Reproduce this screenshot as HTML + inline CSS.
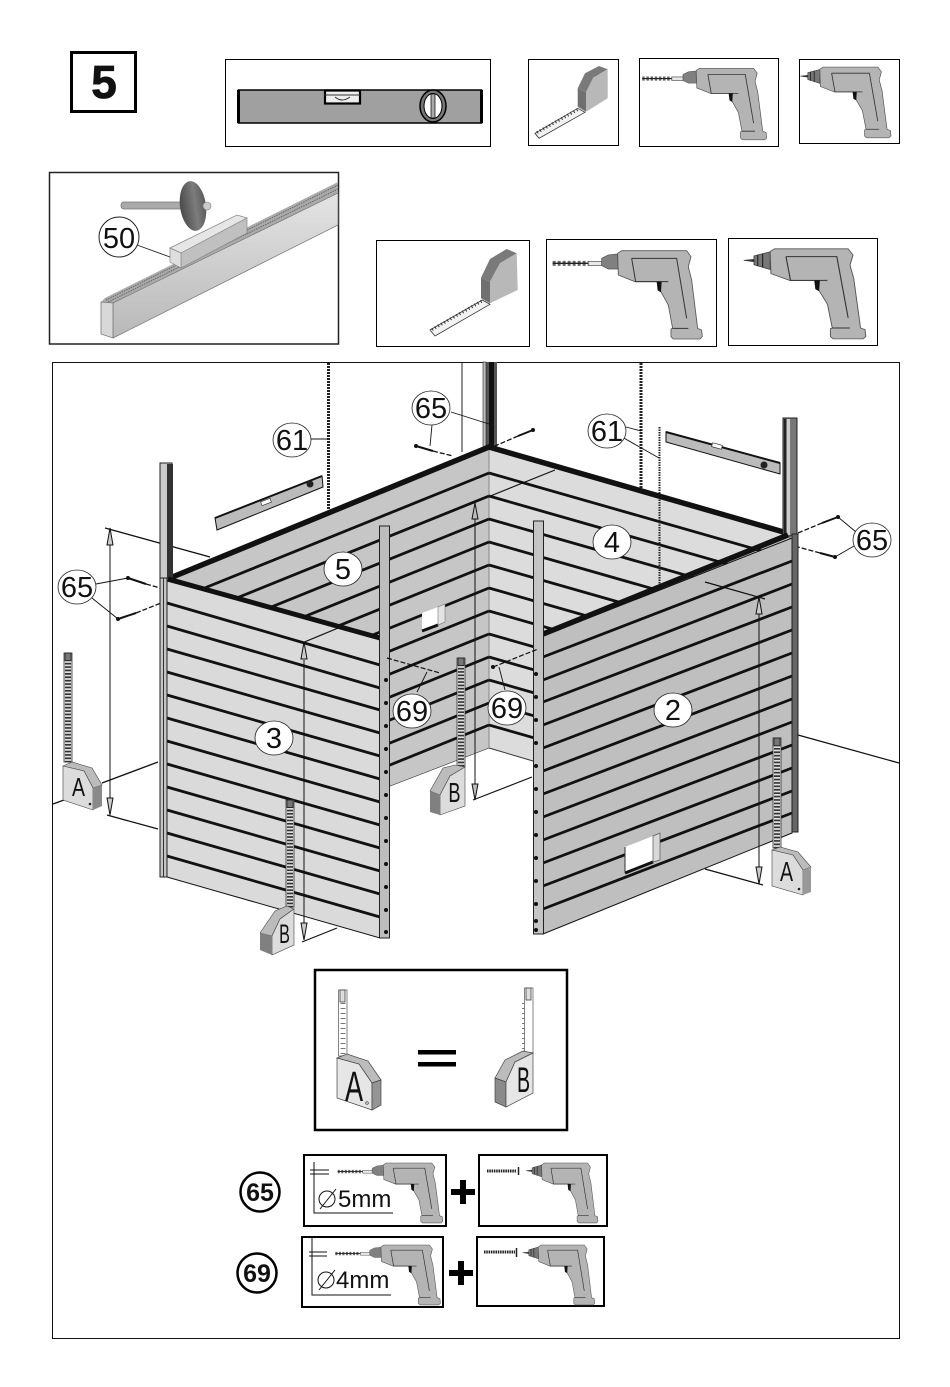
<!DOCTYPE html>
<html><head><meta charset="utf-8"><style>
html,body{margin:0;padding:0;background:#fff;width:950px;height:1387px;overflow:hidden}
svg{display:block}
text{font-family:"Liberation Sans",sans-serif;fill:#111}
</style></head><body>
<svg width="950" height="1387" viewBox="0 0 950 1387" xmlns="http://www.w3.org/2000/svg">
<defs>
<linearGradient id="mal" x1="0" x2="1" y1="0" y2="0"><stop offset="0" stop-color="#4a4a4a"/><stop offset=".6" stop-color="#7c7c7c"/><stop offset="1" stop-color="#5a5a5a"/></linearGradient>
<linearGradient id="rail" x1="0" x2="0" y1="0" y2="1"><stop offset="0" stop-color="#e4e4e4"/><stop offset="1" stop-color="#b8b8b8"/></linearGradient>
<g id="body">
<path d="M728 55 L740 47 L935 47 L948 65 L940 95 L950 135 L968 280 L980 285 L982 305 L975 312 L895 312 L888 305 L888 282 L893 280 L880 210 L855 165 L850 140 L780 140 L730 120 Z" fill="#b4b4b4" stroke="#555" stroke-width="2.500"/>
<path d="M770 70 L905 70 L935 250 M770 70 L782 140 L880 140 M893 280 L940 280" fill="none" stroke="#333" stroke-width="3"/>
<path d="M845 140 L860 140 L858 172 L848 166 Z" fill="#111"/>
</g>
<g id="dhead">
<path d="M680 70 L700 60 L727 57 L729 102 L700 102 L680 92 Z" fill="#808080" stroke="#555" stroke-width="2"/>
<path d="M640 79 L680 79 L680 92 L640 92Z" fill="#e8e8e8" stroke="#444" stroke-width="2"/>
<path d="M533 85 L640 85" stroke="#666" stroke-width="15" stroke-dasharray="9 6" fill="none"/>
<path d="M533 85 L640 85" stroke="#222" stroke-width="4" fill="none"/>
</g>
<g id="shead">
<path d="M685 68 L728 56 L728 108 L685 94 Z" fill="#777" stroke="#333" stroke-width="2"/>
<path d="M695 65V98M708 62V102" stroke="#222" stroke-width="3"/>
<path d="M658 81 L685 78 L685 85 Z" fill="#333" stroke="#333" stroke-width="2"/>
</g>
<g id="tape"><rect x="0" y="0" width="8" height="100" fill="#dedede" stroke="#333" stroke-width=".8"/><path d="M4 6V100" stroke="#333" stroke-width="6" stroke-dasharray="1.500 1.600" fill="none"/><rect x="1" y="0" width="6" height="7" fill="#777" stroke="#222" stroke-width=".8"/></g>
</defs>

<!-- step number -->
<rect x="71.500" y="52.500" width="64" height="59" fill="#fff" stroke="#000" stroke-width="3"/>
<text x="104" y="98" font-size="46" font-weight="bold" text-anchor="middle" stroke="#111" stroke-width=".8">5</text>

<!-- level box -->
<rect x="225.500" y="59.500" width="265" height="87" fill="#fff" stroke="#000"/>
<rect x="238.500" y="90" width="243" height="33" fill="#a0a0a0" stroke="#000" stroke-width="1.500"/>
<path d="M238.500 90V123M481.500 90V123" stroke="#000" stroke-width="3"/>
<rect x="325" y="90.500" width="35" height="13" fill="#eee" stroke="#000" stroke-width="2.200"/>
<path d="M324 95H360M335 97Q342 103 350 97" stroke="#333" fill="none"/>
<ellipse cx="433" cy="106" rx="13" ry="16" fill="#777" stroke="#000" stroke-width="1.500"/>
<ellipse cx="433" cy="106" rx="9" ry="12.500" fill="#fff" stroke="#000"/>
<rect x="431" y="94" width="4" height="24" fill="#aaa" stroke="#000" stroke-width=".7"/>

<!-- small tape box -->
<rect x="528.500" y="59.500" width="90" height="86" fill="#fff" stroke="#000"/>
<path d="M535 133.300 L577.700 108.300 L585 112.300 L539 138.300Z" fill="#f2f2f2" stroke="#333" stroke-width=".8"/>
<path d="M537 132.500 L578 109.500" stroke="#333" stroke-width="3" stroke-dasharray="1 2.500"/>
<path d="M577.700 88.300 L585 73.300 L599 66 L607.700 69.300 L593.300 77.700 L586 92.300Z" fill="#7a7a7a"/>
<path d="M577.700 88.300 L586 92.300 L586 111.700 L577.700 106.700Z" fill="#707070"/>
<path d="M586 92.300 L593.300 77.700 L607.700 69.300 L607.700 98.300 L586 111.700Z" fill="#b8b8b8"/>

<!-- small drill box -->
<rect x="639.500" y="58.500" width="139" height="88" fill="#fff" stroke="#000"/>
<g transform="translate(494.600,55.600) scale(.277,.27)"><use href="#dhead"/><use href="#body"/></g>

<!-- small driver box -->
<rect x="799.500" y="59.500" width="100" height="84" fill="#fff" stroke="#000"/>
<g transform="translate(616,54.500) scale(.28,.267)"><use href="#shead"/><use href="#body"/></g>

<!-- box 50 -->
<rect x="49.500" y="172.500" width="289" height="171.500" fill="#fff" stroke="#222" stroke-width="1.500"/>
<path d="M105 298 L338 182 L338 193 L113 303 L101 302Z" fill="#aaa"/>
<path d="M106 300 L338 185M108 302 L338 189" stroke="#666" stroke-dasharray="1.500 1" fill="none"/>
<path d="M113 303 L338 193 L338 225 L113 338Z" fill="url(#rail)" stroke="#777" stroke-width=".7"/>
<path d="M101 302 L113 303 L113 338 L101 334Z" fill="#d8d8d8" stroke="#777" stroke-width=".8"/>
<path d="M170 248 L237 215 L247 218 L181 253Z" fill="#e6e6e6" stroke="#888" stroke-width=".7"/>
<path d="M181 253 L247 218 L247 233 L181 268Z" fill="#c0c0c0" stroke="#888" stroke-width=".7"/>
<path d="M170 248 L181 253 L181 268 L170 262Z" fill="#dedede" stroke="#888" stroke-width=".7"/>
<rect x="121" y="202" width="62" height="7" rx="3" fill="#aaa" stroke="#777" stroke-width=".8"/>
<ellipse cx="193" cy="206" rx="13" ry="25" fill="url(#mal)" transform="rotate(-8 193 206)"/>
<circle cx="207" cy="206" r="4" fill="#ccc" stroke="#777" stroke-width=".6"/>
<path d="M137 245 L170 257" stroke="#222" stroke-width=".9"/>
<circle cx="119" cy="237" r="20" fill="#fff" stroke="#222"/>
<text x="119" y="248" font-size="29" text-anchor="middle">50</text>

<!-- large tape box -->
<rect x="376.500" y="240.500" width="153" height="106" fill="#fff" stroke="#000"/>
<path d="M430 330 L482.300 300 L490 304.300 L435 336Z" fill="#f2f2f2" stroke="#333" stroke-width=".8"/>
<path d="M432 329.500 L482 301" stroke="#333" stroke-width="3" stroke-dasharray="1 2.500"/>
<path d="M481 277.700 L490 259 L506.700 249 L516.700 253.300 L500 263.300 L490 281.700Z" fill="#7a7a7a"/>
<path d="M481 277.700 L490 281.700 L490 303.300 L481 298.300Z" fill="#707070"/>
<path d="M490 281.700 L500 263.300 L516.700 253.300 L517.700 290 L490 303.300Z" fill="#b8b8b8"/>

<!-- large drill box -->
<rect x="546.500" y="239.500" width="170" height="107" fill="#fff" stroke="#000"/>
<g transform="translate(375,235) scale(.3333)"><use href="#dhead"/><use href="#body"/></g>

<!-- large driver box -->
<rect x="728.500" y="238.500" width="149" height="107" fill="#fff" stroke="#000"/>
<g transform="translate(496,232.800) scale(.3766,.34)"><use href="#shead"/><use href="#body"/></g>

<!-- main frame -->
<rect x="52.500" y="362.500" width="847" height="976" fill="#fff" stroke="#111"/>

<!-- dotted/thin behind walls -->
<path d="M328.500 363V510" stroke="#222" stroke-width="3" stroke-dasharray="2 1"/>
<path d="M641 363V488" stroke="#222" stroke-width="3" stroke-dasharray="2 1"/>
<path d="M462 363V452" stroke="#222"/>
<path d="M53 804 L64 800M102 783 L158 762M105 528 L210 557M107 815 L158 829M798 735 L899 763" stroke="#111" stroke-width="1.300" fill="none"/>

<!-- levels -->
<path d="M215 518 L322 476 L323 487 L217 530Z" fill="#bbb" stroke="#111"/>
<path d="M215 518 L322 476" stroke="#111" stroke-width="2"/>
<circle cx="310" cy="484" r="3.500" fill="#222"/><rect x="261" y="500" width="10" height="4" fill="#fff" stroke="#222" stroke-width=".6" transform="rotate(-21 266 502)"/>
<path d="M666 432 L780 463 L780 474 L666 442Z" fill="#bbb" stroke="#111"/>
<path d="M666 432 L780 463" stroke="#111" stroke-width="2"/>
<circle cx="764" cy="465" r="3.500" fill="#222"/><rect x="712" y="444" width="10" height="4" fill="#fff" stroke="#222" stroke-width=".6" transform="rotate(15 717 446)"/>

<!-- back walls -->
<path d="M170 578 L489 447 L489 748 L380 790 L170 790Z" fill="#c6c6c6" stroke="#333" stroke-width=".6"/>
<path d="M489 447 L790 533 L790 830 L533 761 L489 748Z" fill="#dcdcdc" stroke="#333"/>
<path d="M489 447V748" stroke="#888"/>
<path d="M489 473L170 602M489 496L170 625M489 519L170 648M489 542L170 671M489 565L170 694M489 588L170 717M489 611L170 740M489 634L170 763M489 657L170 786M489 680L380 724M489 703L380 747M489 725L380 769" stroke="#111" stroke-width="2.800" fill="none"/>
<path d="M489 473L790 559M489 496L790 582M489 519L790 605M489 542L790 628M489 565L790 651M489 588L790 674M489 611L790 697M489 634L790 720M489 657L790 743M489 680L790 766M489 703L790 789M489 725L790 811" stroke="#111" stroke-width="2.800" fill="none"/>
<!-- back-wall window -->
<path d="M422 613 L438 607 L438 625 L422 631Z" fill="#fff"/><path d="M422 631 L438 625" stroke="#111" stroke-width="3"/>
<path d="M438 607 L445 604 L445 622 L438 625Z" fill="#e4e4e4" stroke="#777" stroke-width=".6"/>
<!-- extra lines -->
<path d="M473 503 L555 470M473 800 L532 777" stroke="#111" stroke-width="1.200"/>
<!-- corner post -->
<rect x="483" y="362" width="14" height="86" fill="#555"/><rect x="483" y="362" width="3" height="86" fill="#bbb" stroke="#222" stroke-width=".6"/><rect x="489" y="362" width="5" height="86" fill="#111"/>
<!-- dotted 2 -->
<path d="M659.500 427V585" stroke="#222" stroke-width="2" stroke-dasharray="1.500 1"/>
<!-- arrow back -->
<path d="M475 518V785" stroke="#111"/>
<polygon points="475,503 472,519 478,519" fill="#bbb" stroke="#111"/>
<polygon points="475,800 472,784 478,784" fill="#bbb" stroke="#111"/>
<!-- back beam -->
<path d="M170 578 L489 447 L787 533" fill="none" stroke="#111" stroke-width="5.500"/>

<!-- upper posts -->
<rect x="160" y="463" width="12" height="116" fill="#ccc" stroke="#222"/><rect x="167" y="464" width="6" height="115" fill="#333"/><rect x="783" y="418" width="14" height="118" fill="#777" stroke="#222"/><rect x="787" y="419" width="3" height="116" fill="#ccc"/><rect x="784" y="419" width="2" height="116" fill="#222"/>

<!-- front left wall -->
<path d="M167 581 L380 638 L380 938 L167 877Z" fill="#dadada" stroke="#111"/>
<path d="M167 603L380 665M167 626L380 688M167 649L380 710M167 672L380 733M167 695L380 756M167 718L380 779M167 741L380 802M167 764L380 825M167 787L380 848M167 810L380 871M167 833L380 894M167 856L380 917" stroke="#111" stroke-width="2.800" fill="none"/>
<rect x="160" y="578" width="7" height="299" fill="#c4c4c4" stroke="#222"/>
<path d="M163.500 578V877" stroke="#333"/>
<!-- front left beam -->
<path d="M168 579 L380 638" stroke="#111" stroke-width="5"/>
<!-- post -->
<rect x="379.500" y="526" width="10" height="412" fill="#bdbdbd" stroke="#222"/>
<path d="M386 680v.01M386 703v.01M386 726v.01M386 749v.01M386 772v.01M386 795v.01M386 818v.01M386 841v.01M386 864v.01M386 887v.01M386 910v.01M386 932v.01" stroke="#111" stroke-width="4" stroke-linecap="round"/>

<!-- front right wall -->
<path d="M543 636 L792 538 L792 833 L543 934Z" fill="#bfbfbf" stroke="#111"/>
<path d="M543 657L792 561M543 680L792 584M543 702L792 607M543 725L792 630M543 748L792 653M543 771L792 676M543 794L792 699M543 817L792 722M543 840L792 745M543 863L792 768M543 886L792 791M543 909L792 813" stroke="#111" stroke-width="2.800" fill="none"/>
<path d="M625 847 L653 836 L653 862 L625 873Z" fill="#fff"/><path d="M625 873 L653 862" stroke="#111" stroke-width="3"/><path d="M625 847V873" stroke="#333"/>
<path d="M653 836 L660 833 L660 860 L653 862Z" fill="#d8d8d8" stroke="#555" stroke-width=".7"/>
<rect x="792" y="534" width="6" height="298" fill="#666" stroke="#222"/>
<path d="M543 634 L788 535" stroke="#111" stroke-width="5.500"/>
<rect x="533.500" y="521" width="10" height="413" fill="#c4c4c4" stroke="#222"/>
<path d="M536 674v.01M536 697v.01M536 720v.01M536 743v.01M536 766v.01M536 789v.01M536 812v.01M536 835v.01M536 858v.01M536 881v.01M536 904v.01M536 921v.01M536 930v.01" stroke="#111" stroke-width="4" stroke-linecap="round"/>

<!-- dimension lines -->
<path d="M110 545V798M304 660V925M759 612V870" stroke="#111"/>
<polygon points="110,528 107,545 113,545" fill="#ccc" stroke="#111"/>
<polygon points="110,815 107,798 113,798" fill="#ccc" stroke="#111"/>
<polygon points="304,642 301,659 307,659" fill="#ccc" stroke="#111"/>
<polygon points="304,940 301,923 307,923" fill="#ccc" stroke="#111"/>
<polygon points="759,597 756,614 762,614" fill="#ccc" stroke="#111"/>
<polygon points="759,884 756,867 762,867" fill="#ccc" stroke="#111"/>
<path d="M302 643 L343 626M302 942 L337 928M705 582 L765 599M705 869 L763 885" stroke="#111" stroke-width="1.200"/>

<!-- tape measures -->
<use href="#tape" transform="translate(64,653) scale(1,1.090)"/>
<path d="M63 766 L72 762 L92 768 L102 785 L93 788 L84 771Z" fill="#bcbcbc" stroke="#444" stroke-width=".6"/>
<path d="M63 766 L84 771 L93 788 L93 810 L63 800Z" fill="#dcdcdc" stroke="#444" stroke-width=".6"/>
<path d="M93 788 L102 785 L102 806 L93 810Z" fill="#8a8a8a"/>
<circle cx="90" cy="804" r="1.300" fill="#222"/>
<text transform="translate(78.500,796) scale(.75,1)" font-size="26" text-anchor="middle">A</text>

<use href="#tape" transform="translate(286,800) scale(1,1.070)"/>
<path d="M260 933 L275 911 L287 906 L294 909 L280 919 L272 936Z" fill="#bcbcbc" stroke="#444" stroke-width=".6"/>
<path d="M272 936 L280 919 L294 909 L294 945 L272 955Z" fill="#dcdcdc" stroke="#444" stroke-width=".6"/>
<path d="M260 933 L272 936 L272 955 L260 950Z" fill="#808080"/>
<text transform="translate(284.500,943) scale(.6,1)" font-size="27" text-anchor="middle">B</text>

<use href="#tape" transform="translate(457,658) scale(1,1.080)"/>
<path d="M430 791 L443 768 L455 765 L465 767 L450 776 L440 795Z" fill="#bcbcbc" stroke="#444" stroke-width=".6"/>
<path d="M440 795 L450 776 L465 767 L465 806 L440 815Z" fill="#dcdcdc" stroke="#444" stroke-width=".6"/>
<path d="M430 791 L440 795 L440 815 L430 812Z" fill="#808080"/>
<text transform="translate(454.500,802) scale(.65,1)" font-size="28" text-anchor="middle">B</text>

<use href="#tape" transform="translate(773,738) scale(1,1.100)"/>
<path d="M772 850 L780 847 L798 852 L811 867 L803 870 L793 855Z" fill="#bcbcbc" stroke="#444" stroke-width=".6"/>
<path d="M772 850 L793 855 L803 870 L803 895 L772 886Z" fill="#dcdcdc" stroke="#444" stroke-width=".6"/>
<path d="M803 870 L811 867 L811 892 L803 895Z" fill="#999"/>
<circle cx="799" cy="889" r="1.300" fill="#222"/>
<text transform="translate(786.500,881) scale(.7,1)" font-size="28" text-anchor="middle">A</text>

<!-- screws -->
<g fill="none" stroke="#111" stroke-width="2">
<path d="M128 578 L146 584"/><path d="M146 584 L160 588" stroke-dasharray="5 2" stroke-width="1.300"/>
<path d="M118 619 L136 613"/><path d="M136 613 L161 603" stroke-dasharray="5 2" stroke-width="1.300"/>
<path d="M416 446 L433 451"/><path d="M433 451 L453 456" stroke-dasharray="5 2" stroke-width="1.300"/>
<path d="M533 430 L518 436"/><path d="M518 436 L495 446" stroke-dasharray="5 2" stroke-width="1.300"/>
<path d="M838 517 L822 523"/><path d="M822 523 L798 533" stroke-dasharray="5 2" stroke-width="1.300"/>
<path d="M835 557 L820 553"/><path d="M820 553 L798 547" stroke-dasharray="5 2" stroke-width="1.300"/>
<path d="M387 658 L440 673" stroke-dasharray="5 2" stroke-width="1.200"/>
<path d="M493 667 L538 649" stroke-dasharray="5 2" stroke-width="1.200"/>
</g>
<g fill="#111"><circle cx="128" cy="578" r="2"/><circle cx="118" cy="619" r="2"/><circle cx="416" cy="446" r="2"/><circle cx="533" cy="430" r="2"/><circle cx="838" cy="517" r="2"/><circle cx="835" cy="557" r="2"/><circle cx="493" cy="667" r="2"/></g>

<!-- leaders -->
<path d="M96 584 L128 578M92 598 L118 619M310 439 L328 439M451 412 L489 424M432 425 L430 446M626 427 L641 431M622 437 L659 458M856 532 L838 517M854 546 L835 557M417 692 L427 672M505 690 L499 667" stroke="#111" stroke-width=".9" fill="none"/>

<!-- labels -->
<g fill="#fff" stroke="#222" stroke-width=".8">
<ellipse cx="77" cy="587" rx="19" ry="17"/><ellipse cx="292" cy="440" rx="19" ry="17"/><ellipse cx="431" cy="408" rx="19" ry="17"/><ellipse cx="607" cy="431" rx="19" ry="17"/><ellipse cx="872" cy="540" rx="19" ry="17"/>
<ellipse cx="343" cy="569" rx="19" ry="17"/><ellipse cx="612" cy="542" rx="19" ry="17"/><ellipse cx="274" cy="738" rx="19" ry="17"/><ellipse cx="673" cy="710" rx="19" ry="17"/><ellipse cx="412" cy="711" rx="19" ry="17"/><ellipse cx="507" cy="708" rx="19" ry="17"/>
</g>
<g font-size="29" text-anchor="middle">
<text x="77" y="597">65</text><text x="292" y="450">61</text><text x="431" y="418">65</text><text x="607" y="441">61</text><text x="872" y="550">65</text>
<text x="343" y="579">5</text><text x="612" y="552">4</text><text x="274" y="748">3</text><text x="673" y="720">2</text><text x="412" y="721">69</text><text x="507" y="718">69</text>
</g>

<!-- A = B box -->
<rect x="315" y="970" width="252" height="160" fill="#fff" stroke="#000" stroke-width="2.500"/>
<rect x="338.500" y="990" width="8.500" height="66" fill="#fff" stroke="#666" stroke-width=".8"/>
<path d="M343 1003V1056M524.500 1003V1052" stroke="#777" stroke-width="5" stroke-dasharray="1 4"/>
<rect x="340" y="990" width="5" height="12" fill="#ddd" stroke="#444" stroke-width=".8"/>
<path d="M337 1058 L347 1054 L368 1061 L381 1080 L372 1083 L359 1064Z" fill="#bcbcbc" stroke="#444" stroke-width=".7"/>
<path d="M337 1058 L359 1064 L372 1083 L372 1110 L337 1098Z" fill="#e6e6e6" stroke="#444" stroke-width=".7"/>
<path d="M372 1083 L381 1080 L381 1105 L372 1110Z" fill="#949494" stroke="#444" stroke-width=".7"/>
<circle cx="367" cy="1103" r="1.300" fill="none" stroke="#333" stroke-width=".7"/>
<text transform="translate(354,1101) scale(.63,1)" font-size="43" text-anchor="middle">A</text>
<rect x="418" y="1050" width="38" height="4.500" fill="#000"/><rect x="418" y="1062" width="38" height="4.500" fill="#000"/>
<rect x="524.500" y="988" width="8.500" height="65" fill="#fff" stroke="#666" stroke-width=".8"/>
<rect x="526" y="988" width="5" height="12" fill="#ddd" stroke="#444" stroke-width=".8"/>
<path d="M495 1078 L505 1060 L523 1051 L533 1053 L515 1062 L506 1082Z" fill="#bcbcbc" stroke="#444" stroke-width=".7"/>
<path d="M495 1078 L506 1082 L506 1107 L495 1102Z" fill="#8a8a8a" stroke="#444" stroke-width=".7"/>
<path d="M506 1082 L515 1062 L533 1053 L533 1093 L506 1107Z" fill="#e6e6e6" stroke="#444" stroke-width=".7"/>
<text transform="translate(523.500,1092) scale(.56,1)" font-size="35" text-anchor="middle">B</text>

<!-- drill legend -->
<circle cx="260" cy="1192" r="19.500" fill="#fff" stroke="#000" stroke-width="2.500"/>
<text x="260" y="1201" font-size="25" font-weight="bold" text-anchor="middle">65</text>
<circle cx="257" cy="1273" r="19.500" fill="#fff" stroke="#000" stroke-width="2.500"/>
<text x="257" y="1282" font-size="25" font-weight="bold" text-anchor="middle">69</text>

<rect x="304" y="1155" width="142" height="71" fill="#fff" stroke="#000" stroke-width="2"/>
<rect x="479" y="1155" width="128" height="71" fill="#fff" stroke="#000" stroke-width="2"/>
<rect x="302" y="1237" width="141" height="70" fill="#fff" stroke="#000" stroke-width="2"/>
<rect x="477" y="1237" width="127" height="69" fill="#fff" stroke="#000" stroke-width="2"/>

<g transform="translate(213,1152.400) scale(.234,.226)"><use href="#dhead"/><use href="#body"/></g>
<g transform="translate(380,1152.400) scale(.222,.226)"><use href="#shead"/><use href="#body"/></g>
<g transform="translate(210.600,1234.400) scale(.234,.226)"><use href="#dhead"/><use href="#body"/></g>
<g transform="translate(376.700,1234.400) scale(.222,.226)"><use href="#shead"/><use href="#body"/></g>

<path d="M487 1171H516M484 1252H515" stroke="#222" stroke-width="3" stroke-dasharray="1.500 .8"/>
<path d="M518.500 1167V1175M516.500 1248V1257" stroke="#222" stroke-width="1.500"/>

<g fill="none" stroke="#111" stroke-width="1">
<path d="M314 1162V1213H393M310 1170H329M310 1174H329"/>
<path d="M312 1238V1295H391M309 1252H327M309 1256H327"/>
<circle cx="327" cy="1199" r="8"/><path d="M320 1209 L336 1189"/>
<circle cx="326" cy="1280" r="8"/><path d="M319 1290 L335 1270"/>
</g>
<text x="338" y="1207" font-size="24">5mm</text>
<text x="336" y="1288" font-size="24">4mm</text>

<rect x="451" y="1189" width="24" height="6" fill="#000"/><rect x="460" y="1180" width="6" height="24" fill="#000"/>
<rect x="449" y="1270" width="24" height="6" fill="#000"/><rect x="458" y="1261" width="6" height="24" fill="#000"/>
</svg>
</body></html>
